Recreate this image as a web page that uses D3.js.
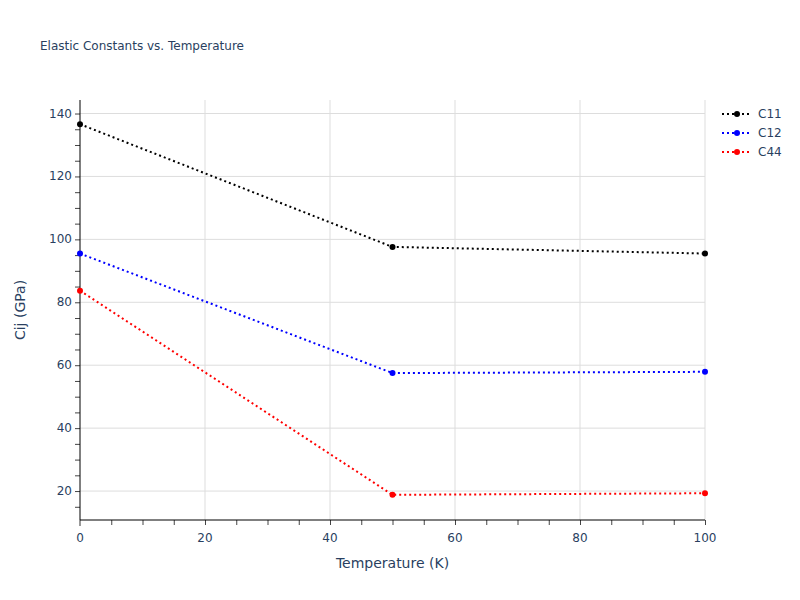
<!doctype html>
<html>
  <head>
    <script src="https://d3js.org/d3.v7.min.js"></script>
    <style>
      body { margin: 0; background: #fff; }
      text { font-family: "DejaVu Sans", Verdana, sans-serif; fill: #2a3f5f; }
    </style>
  </head>
  <body>
    <script>
    // data
    var temps = [0, 50, 100];
    var c11 = [136.6, 97.6, 95.5];
    var c12 = [95.5, 57.5, 57.9];
    var c44 = [83.7, 18.8, 19.3];
    var seriesNames = ['C11', 'C12', 'C44'];
    var seriesColors = ['black', 'blue', 'red'];
    var xTicks = [0, 20, 40, 60, 80, 100];
    var yTicks = [20, 40, 60, 80, 100, 120, 140];

    var width = 800;
    var height = 600;
    var margin = { top: 100, right: 95, bottom: 80, left: 80 };
    var innerWidth = width - margin.left - margin.right;
    var innerHeight = height - margin.top - margin.bottom;

    var series = [c11, c12, c44].map(function(vals, i) {
      return {
        name: seriesNames[i],
        color: seriesColors[i],
        values: vals.map(function(v, j) { return { t: temps[j], v: v }; })
      };
    });

    var svg = d3.select('body')
      .append('svg')
      .attr('width', width)
      .attr('height', height);

    var g = svg.append('g')
      .attr('transform', 'translate(' + margin.left + ',' + margin.top + ')');

    var x = d3.scaleLinear()
      .domain([0, 100])
      .range([0, innerWidth]);

    var y = d3.scaleLinear()
      .domain([10.8, 144.3])
      .range([innerHeight, 0]);

    // grid
    g.append('g')
      .selectAll('line')
      .data(xTicks.slice(1))
      .enter()
      .append('line')
        .attr('x1', function(d) { return x(d); })
        .attr('x2', function(d) { return x(d); })
        .attr('y1', 0)
        .attr('y2', innerHeight)
        .attr('stroke', '#dddddd')
        .attr('stroke-width', 1);

    g.append('g')
      .selectAll('line')
      .data(yTicks)
      .enter()
      .append('line')
        .attr('x1', 0)
        .attr('x2', innerWidth)
        .attr('y1', function(d) { return y(d); })
        .attr('y2', function(d) { return y(d); })
        .attr('stroke', '#dddddd')
        .attr('stroke-width', 1);

    // minor ticks every 5
    var xMinor = d3.range(5, 101, 5);
    var yMinor = d3.range(15, 145, 5);

    var xAxis = d3.axisBottom(x).tickValues(xMinor).tickSize(5).tickFormat('');
    var yAxis = d3.axisLeft(y).tickValues(yMinor).tickSize(5).tickFormat('');

    var gx = g.append('g')
      .attr('transform', 'translate(0,' + innerHeight + ')')
      .call(xAxis);
    var gy = g.append('g').call(yAxis);

    [gx, gy].forEach(function(ax) {
      ax.select('.domain').remove();
      ax.selectAll('.tick text').remove();
      ax.selectAll('.tick line').attr('stroke', '#444').attr('stroke-width', 1);
    });

    // the zero tick on x is drawn lighter and a bit longer
    g.append('line')
      .attr('x1', x(0)).attr('x2', x(0))
      .attr('y1', innerHeight).attr('y2', innerHeight + 6)
      .attr('stroke', '#999').attr('stroke-width', 2);

    // tick labels
    g.append('g')
      .selectAll('text')
      .data(xTicks)
      .enter()
      .append('text')
        .attr('x', function(d) { return x(d); })
        .attr('y', innerHeight + 22)
        .attr('text-anchor', 'middle')
        .style('font-size', '12px')
        .text(function(d) { return d; });

    g.append('g')
      .selectAll('text')
      .data(yTicks)
      .enter()
      .append('text')
        .attr('x', -8)
        .attr('y', function(d) { return y(d) + 4; })
        .attr('text-anchor', 'end')
        .style('font-size', '12px')
        .text(function(d) { return d; });

    // axis lines
    g.append('line')
      .attr('x1', 0).attr('x2', 0)
      .attr('y1', 0).attr('y2', innerHeight)
      .attr('stroke', 'black').attr('stroke-width', 1);
    g.append('line')
      .attr('x1', 0).attr('x2', innerWidth)
      .attr('y1', innerHeight).attr('y2', innerHeight)
      .attr('stroke', 'black').attr('stroke-width', 1);

    var line = d3.line()
      .x(function(d) { return x(d.t); })
      .y(function(d) { return y(d.v); });

    var sg = g.selectAll('.series')
      .data(series)
      .enter()
      .append('g')
        .attr('class', 'series');

    sg.append('path')
      .attr('fill', 'none')
      .attr('stroke', function(d) { return d.color; })
      .attr('stroke-width', 2)
      .attr('stroke-dasharray', '2,3')
      .attr('d', function(d) { return line(d.values); });

    sg.selectAll('circle')
      .data(function(d) { return d.values.map(function(p) { return { t: p.t, v: p.v, color: d.color }; }); })
      .enter()
      .append('circle')
        .attr('cx', function(d) { return x(d.t); })
        .attr('cy', function(d) { return y(d.v); })
        .attr('r', 3)
        .attr('fill', function(d) { return d.color; });

    // legend
    var legend = svg.append('g')
      .attr('transform', 'translate(722,114)');

    var item = legend.selectAll('g')
      .data(series)
      .enter()
      .append('g')
        .attr('transform', function(d, i) { return 'translate(0,' + i * 19 + ')'; });

    item.append('line')
      .attr('x1', 0).attr('x2', 30)
      .attr('y1', 0).attr('y2', 0)
      .attr('stroke', function(d) { return d.color; })
      .attr('stroke-width', 2)
      .attr('stroke-dasharray', '2,3');

    item.append('circle')
      .attr('cx', 15).attr('cy', 0).attr('r', 3)
      .attr('fill', function(d) { return d.color; });

    item.append('text')
      .attr('x', 36)
      .attr('y', 4)
      .style('font-size', '12px')
      .text(function(d) { return d.name; });

    // titles
    svg.append('text')
      .attr('x', 40)
      .attr('y', 50)
      .style('font-size', '12px')
      .text('Elastic Constants vs. Temperature');

    svg.append('text')
      .attr('x', margin.left + innerWidth / 2)
      .attr('y', 568)
      .attr('text-anchor', 'middle')
      .style('font-size', '14px')
      .text('Temperature (K)');

    svg.append('text')
      .attr('transform', 'translate(25,' + (margin.top + innerHeight / 2) + ') rotate(-90)')
      .attr('text-anchor', 'middle')
      .style('font-size', '14px')
      .text('Cij (GPa)');
    </script>
  </body>
</html>
